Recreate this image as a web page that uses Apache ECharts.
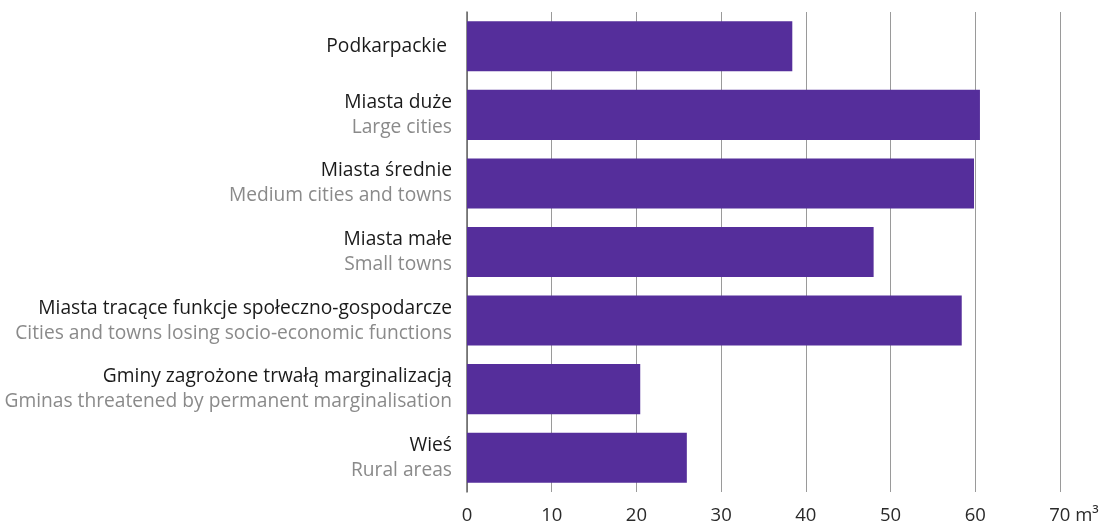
<!DOCTYPE html>
<html><head><meta charset="utf-8">
<script src="https://cdn.jsdelivr.net/npm/echarts@6/dist/echarts.min.js"></script>
<style>html,body{margin:0;padding:0;background:#fff}#c{width:1101px;height:525px}</style>
</head><body><div id="c"></div>
<script>
const categoriesPl = ['Podkarpackie ', 'Miasta duże', 'Miasta średnie', 'Miasta małe', 'Miasta tracące funkcje społeczno-gospodarcze', 'Gminy zagrożone trwałą marginalizacją', 'Wieś'];
const categoriesEn = ['', 'Large cities', 'Medium cities and towns', 'Small towns', 'Cities and towns losing socio-economic functions', 'Gminas threatened by permanent marginalisation', 'Rural areas'];
const values = [38.4, 60.55, 59.85, 48.0, 58.4, 20.45, 25.95];
const tickUnit = 'm³';

const cats = categoriesPl.map((p, i) => categoriesEn[i] ? p + '\n' + categoriesEn[i] : p);
const FONT = '"Open Sans", sans-serif';
const LF = 19.2;
const TF = 18.5;
const chart = echarts.init(document.getElementById('c'));
chart.setOption({
  animation: false,
  grid: { left: 467, right: 41, top: 12, bottom: 33, containLabel: false, outerBoundsMode: 'none' },
  xAxis: {
    type: 'value', min: 0, max: 70, interval: 10,
    axisLine: { show: false }, axisTick: { show: false },
    splitLine: { show: true, lineStyle: { color: '#9a9a9a', width: 1 } },
    axisLabel: {
      margin: 14, color: '#2a2a2a', fontSize: TF, fontFamily: FONT,
      formatter: v => v === 70 ? '{pad|}' + v + '{u| ' + tickUnit + '}' : String(v),
      rich: { pad: { width: 28 }, u: { fontSize: TF, color: '#2a2a2a', fontFamily: FONT } }
    }
  },
  yAxis: {
    type: 'category', inverse: true, data: cats,
    axisLine: { show: true, lineStyle: { color: '#666', width: 1.5 } },
    axisTick: { show: false },
    axisLabel: {
      margin: 15, align: 'right', fontFamily: FONT,
      formatter: (v) => {
        const parts = v.split('\n');
        return parts.length > 1 ? '{pl|' + parts[0] + '}\n{en|' + parts[1] + '}' : '{pl|' + parts[0] + '}';
      },
      rich: {
        pl: { fontSize: LF, color: '#1a1a1a', lineHeight: 25, fontFamily: FONT, align: 'right' },
        en: { fontSize: LF, color: '#8a8a8a', lineHeight: 25, fontFamily: FONT, align: 'right' }
      }
    }
  },
  series: [{
    type: 'bar', data: values, barCategoryGap: '27%',
    itemStyle: { color: '#552e9b' }, z: 1
  }]
});
</script></body></html>
